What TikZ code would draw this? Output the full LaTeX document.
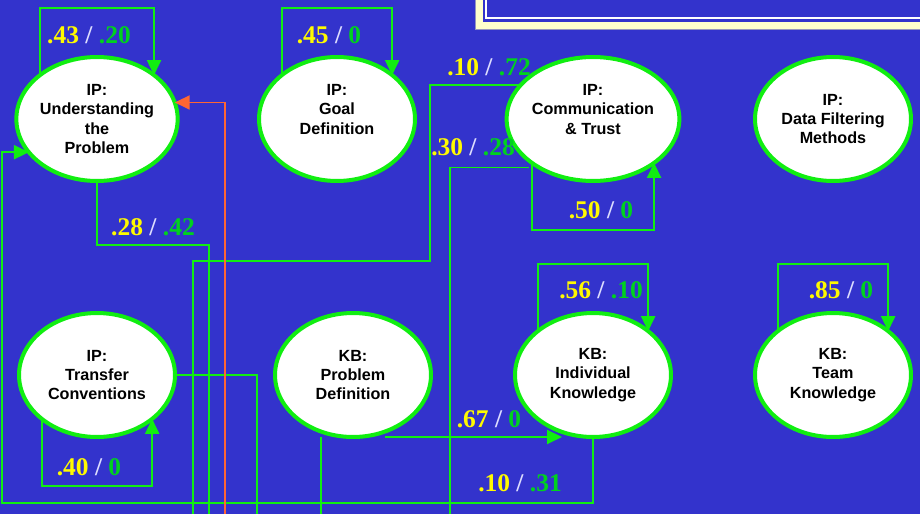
\documentclass[tikz,border=0pt]{standalone}
\usepackage{fontspec}
\setmainfont{Liberation Serif}
\setsansfont{Liberation Sans}
\usetikzlibrary{arrows.meta}
\usetikzlibrary{shapes.geometric}
\definecolor{bgblue}{RGB}{51,51,204}
\definecolor{linegreen}{RGB}{17,238,17}
\definecolor{wtyellow}{RGB}{255,250,0}
\definecolor{wtgreen}{RGB}{0,210,30}
\definecolor{wtslash}{RGB}{221,221,255}
\definecolor{orangeline}{RGB}{255,102,51}
\definecolor{boxcream}{RGB}{255,255,204}
\definecolor{boxedge}{RGB}{150,150,190}
\newcommand{\wtpair}[2]{\textcolor{wtyellow}{#1} \textcolor{wtslash}{/} \textcolor{wtgreen}{#2}}

\begin{document}
\begin{tikzpicture}[x=0.02cm,y=-0.02cm,
stage/.style={ellipse,draw=linegreen,line width=0.08cm,fill=white,minimum width=3.12cm,minimum height=2.48cm,inner sep=0pt,outer sep=0pt,align=center,font=\sffamily\bfseries\fontsize{9.2}{11}\selectfont},
link/.style={draw=linegreen,line width=0.038cm},
tip/.style={-{Triangle[length=0.3cm,width=0.28cm]}},
wt/.style={anchor=base,font=\bfseries\fontsize{14.5}{16}\selectfont}]
\useasboundingbox (0,0) rectangle (920,514);
\fill[bgblue] (0,0) rectangle (920,514);
\fill[boxcream] (475,0) rectangle (920,29);
\fill[bgblue] (483,0) rectangle (920,22);
\draw[white,line width=0.03cm] (486,0) |- (920,18);
\draw[boxedge,line width=0.02cm] (475,0) |- (920,29);

\node[stage] (up) at (97,119) {IP:\\Understanding\\the\\Problem};
\node[stage] (gd) at (337,119) {IP:\\Goal\\Definition\\\mbox{}};
\node[stage] (ct) at (593,119) {IP:\\Communication\\\& Trust\\\mbox{}};
\node[stage] (df) at (833,119) {IP:\\Data Filtering\\Methods};
\node[stage] (tc) at (97,375) {IP:\\Transfer\\Conventions};
\node[stage] (pd) at (353,375) {KB:\\Problem\\Definition};
\node[stage] (ik) at (593,375) {KB:\\Individual\\Knowledge};
\node[stage] (tk) at (833,375) {KB:\\Team\\Knowledge};

\coordinate (upout) at (209,514);
\coordinate (ctouta) at (193,514);
\coordinate (ctoutb) at (450,514);
\coordinate (tcout) at (257,514);
\coordinate (pdout) at (321,514);
\coordinate (orgin) at (225,514);
\coordinate (lft) at (2,503);

\draw[link,tip] (up.north west) -- ++(0,-67) -| (up.north east);
\draw[link,tip] (gd.north west) -- ++(0,-67) -| (gd.north east);
\draw[link,tip] (ct.south west) -- ++(0,67) -| (ct.south east);
\draw[link,tip] (tc.south west) -- ++(0,67) -| (tc.south east);
\draw[link,tip] (ik.north west) -- ++(0,-67) -| (ik.north east);
\draw[link,tip] (tk.north west) -- ++(0,-67) -| (tk.north east);

\draw[link] (up.south) -- ++(0,64) -| (upout);
\draw[link] (ct.155) -| ++(-91,176) -| (ctouta);
\draw[link] ([xshift=-0.2cm]ct.222) -| (ctoutb);
\draw[link] (tc.east) -| (tcout);
\draw[link] (pd.south -| pdout) -- (pdout);
\draw[link,tip] ([xshift=0.64cm]pd.south) -- ([xshift=-0.62cm]ik.south);
\draw[link,tip] (ik.south) |- (lft) |- (up.206);
\draw[orangeline,line width=0.038cm,tip] (orgin) |- (up.12);

\node[wt] (wup) at (89,43) {\wtpair{.43}{.20}};
\node[wt] (wgd) at (329,43) {\wtpair{.45}{0}};
\node[wt] (wcta) at (489,75) {\wtpair{.10}{.72}};
\node[wt] (wctb) at (473,155) {\wtpair{.30}{.28}};
\node[wt] (wct) at (601,218) {\wtpair{.50}{0}};
\node[wt] (wupb) at (153,235) {\wtpair{.28}{.42}};
\node[wt] (wtc) at (89,475) {\wtpair{.40}{0}};
\node[wt] (wik) at (601,298) {\wtpair{.56}{.10}};
\node[wt] (wtk) at (841,298) {\wtpair{.85}{0}};
\node[wt] (wpd) at (489,427) {\wtpair{.67}{0}};
\node[wt] (wikb) at (520,491) {\wtpair{.10}{.31}};
\end{tikzpicture}
\end{document}
